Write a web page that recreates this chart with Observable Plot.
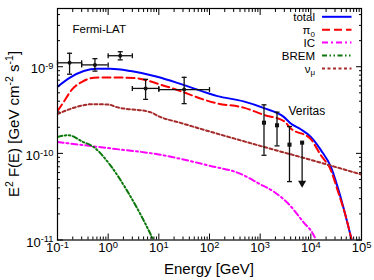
<!DOCTYPE html>
<html><head><meta charset="utf-8">
<script src="https://cdn.jsdelivr.net/npm/d3@7"></script>
<script src="https://cdn.jsdelivr.net/npm/@observablehq/plot@0.6"></script>
<style>
body{margin:0;background:#fff}
svg{font-family:"Liberation Sans",Arial,sans-serif}
</style>
</head><body><div id="chart"></div>
<script>
// ---- model curves (Energy [GeV], E^2 F(E) [GeV cm^-2 s^-1]) ----
const totalE = [0.1, 0.18, 0.33, 0.6, 1.1, 2.8, 9.3, 31.5, 144, 470, 1190, 2960, 4020, 6300, 10000, 15800, 24900, 33800, 45600, 61900, 100000];
const totalF = [5.87e-10, 7.53e-10, 8.91e-10, 9.48e-10, 9.48e-10, 8.91e-10, 7.66e-10, 6.14e-10, 4.58e-10, 3.98e-10, 3.33e-10, 2.62e-10, 2.21e-10, 1.90e-10, 1.55e-10, 1.09e-10, 6.97e-11, 4.08e-11, 2.19e-11, 1.08e-11, 3.0e-12];
const pi0E = [0.1, 0.133, 0.194, 0.305, 0.52, 0.95, 3.2, 14.7, 144, 470, 1190, 2960, 4020, 9770, 15800, 24900, 33800, 49300, 61900, 100000];
const pi0F = [3.07e-10, 3.94e-10, 5.47e-10, 6.70e-10, 7.46e-10, 7.53e-10, 7.4e-10, 5.87e-10, 3.77e-10, 3.37e-10, 2.78e-10, 2.35e-10, 1.94e-10, 1.48e-10, 9.5e-11, 6.37e-11, 3.74e-11, 1.84e-11, 1.08e-11, 3.0e-12];
const icE = [0.1, 1, 10, 100, 411, 1000, 1840, 3890, 7250, 11200, 13000, 20000];
const icF = [1.35e-10, 1.15e-10, 9.7e-11, 7.2e-11, 5.8e-11, 4.4e-11, 3.63e-11, 2.5e-11, 1.59e-11, 1.16e-11, 9.6e-12, 4e-12];
const bremE = [0.1, 0.164, 0.324, 0.51, 1.1, 2.34, 4.3, 6.8, 10];
const bremF = [1.55e-10, 1.62e-10, 1.35e-10, 1.19e-10, 7.3e-11, 3.74e-11, 2.0e-11, 1.18e-11, 7.1e-12];
const numuE = [0.1, 0.2, 0.5, 1, 1.47, 6.8, 10, 26.7, 100, 1000, 10000, 100000];
const numuF = [2.84e-10, 3.33e-10, 3.7e-10, 3.66e-10, 3.42e-10, 2.99e-10, 2.67e-10, 2.25e-10, 1.79e-10, 1.22e-10, 8.4e-11, 5.7e-11];

// ---- Fermi-LAT points ----
const fermiE   = [0.173, 0.548, 1.73, 5.48, 31.6];
const fermiElo = [0.1, 0.3, 1, 3, 10];
const fermiEhi = [0.3, 1, 3, 10, 100];
const fermiF   = [1.11e-9, 1.05e-9, 1.34e-9, 5.62e-10, 5.45e-10];
const fermiFlo = [8.2e-10, 8.9e-10, 1.20e-9, 4.2e-10, 3.75e-10];
const fermiFhi = [1.43e-9, 1.24e-9, 1.49e-9, 7.15e-10, 7.54e-10];

// ---- Veritas points ----
const veritasE   = [1190, 2150, 3790];
const veritasF   = [2.26e-10, 2.11e-10, 1.26e-10];
const veritasFlo = [9.5e-11, 1.22e-10, 4.72e-11];
const veritasFhi = [3.63e-10, 2.99e-10, 2.04e-10];
const ulE = [6730], ulF = [1.33e-10], ulTip = [4.3e-11];

// ---- ticks / labels ----
const xMajor = [0.1, 1, 10, 100, 1000, 10000, 100000];
const yMajor = [1e-11, 1e-10, 1e-9];
const minorMult = [2, 3, 4, 5, 6, 7, 8, 9];
const legendNames = ["total", "π0", "IC", "BREM", "νμ"];

const xDomain = [0.1, 1e5], yDomain = [1e-11, 4.7e-9];
const xMinor = xMajor.flatMap(d => minorMult.map(k => d * k)).filter(v => v < xDomain[1]);
const yMinor = yMajor.flatMap(d => minorMult.map(k => d * k)).filter(v => v < yDomain[1]);

const styles = [
  {stroke: "#0000ff", dash: null},
  {stroke: "#ff0000", dash: "8,4"},
  {stroke: "#ff00ff", dash: "6,3,2,3"},
  {stroke: "#0a780a", dash: "5,2.5,1.5,2.5,1.5,2.5"},
  {stroke: "#a52a2a", dash: "3,2.5"}
];
const seriesE = [totalE, pi0E, icE, bremE, numuE];
const seriesF = [totalF, pi0F, icF, bremF, numuF];

const lineMarks = seriesE.map((E, s) =>
  Plot.line(E.map((e, i) => ({e, f: seriesF[s][i]})), {
    x: "e", y: "f", stroke: styles[s].stroke, strokeWidth: 2,
    strokeDasharray: styles[s].dash, curve: "monotone-x", clip: true
  }));

const fermi = fermiE.map((e, i) => ({e, lo: fermiElo[i], hi: fermiEhi[i], f: fermiF[i], flo: fermiFlo[i], fhi: fermiFhi[i]}));
const veritas = veritasE.map((e, i) => ({e, f: veritasF[i], flo: veritasFlo[i], fhi: veritasFhi[i]}));
const ul = ulE.map((e, i) => ({e, f: ulF[i], tip: ulTip[i]}));

const hcap = {draw(c, size) { const w = Math.sqrt(size / Math.PI); c.moveTo(-w, 0); c.lineTo(w, 0); }};
const vcap = {draw(c, size) { const w = Math.sqrt(size / Math.PI); c.moveTo(0, -w); c.lineTo(0, w); }};
const ink = "#111";
const eb = {stroke: ink, strokeWidth: 1.3};

const supFmt = d => "10|" + Math.round(Math.log10(d));
const blank = () => "";

const svg = Plot.plot({
  width: 374, height: 280,
  marginLeft: 57, marginRight: 13, marginTop: 8, marginBottom: 40.5,
  style: {fontFamily: "Liberation Sans, Arial, sans-serif", fontSize: "13px", color: "#000", background: "#fff"},
  x: {type: "log", domain: xDomain},
  y: {type: "log", domain: yDomain},
  marks: [
    ...lineMarks,
    // Fermi
    Plot.ruleY(fermi, {y: "f", x1: "lo", x2: "hi", ...eb}),
    Plot.ruleX(fermi, {x: "e", y1: "flo", y2: "fhi", ...eb}),
    Plot.dot(fermi, {x: "e", y: "flo", symbol: hcap, r: 2.5, fill: "none", ...eb}),
    Plot.dot(fermi, {x: "e", y: "fhi", symbol: hcap, r: 2.5, fill: "none", ...eb}),
    Plot.dot(fermi, {x: "lo", y: "f", symbol: vcap, r: 2.5, fill: "none", ...eb}),
    Plot.dot(fermi, {x: "hi", y: "f", symbol: vcap, r: 2.5, fill: "none", ...eb}),
    Plot.dot(fermi, {x: "e", y: "f", r: 2, fill: ink}),
    // Veritas
    Plot.ruleX(veritas, {x: "e", y1: "flo", y2: "fhi", ...eb}),
    Plot.dot(veritas, {x: "e", y: "flo", symbol: hcap, r: 2.5, fill: "none", ...eb}),
    Plot.dot(veritas, {x: "e", y: "fhi", symbol: hcap, r: 2.5, fill: "none", ...eb}),
    Plot.dot(veritas, {x: "e", y: "f", symbol: "square", r: 2.3, fill: ink}),
    Plot.ruleX(ul, {x: "e", y1: "f", y2: "tip", ...eb}),
    Plot.dot(ul, {x: "e", y: "tip", symbol: "triangle", rotate: 180, r: 3, fill: ink, dy: -2}),
    Plot.dot(ul, {x: "e", y: "f", symbol: "square", r: 2.3, fill: ink}),
    // frame & inward ticks on all sides
    Plot.frame({stroke: "#000", strokeWidth: 1.2}),
    Plot.axisX(xMajor, {anchor: "bottom", tickSize: -6, tickFormat: blank, label: null}),
    Plot.axisX(xMinor, {anchor: "bottom", tickSize: -3, tickFormat: blank, label: null}),
    Plot.axisX(xMajor, {anchor: "top", tickSize: -6, tickFormat: blank, label: null}),
    Plot.axisX(xMinor, {anchor: "top", tickSize: -3, tickFormat: blank, label: null}),
    Plot.axisY(yMajor, {anchor: "left", tickSize: -6, tickFormat: blank, label: null}),
    Plot.axisY(yMinor, {anchor: "left", tickSize: -3, tickFormat: blank, label: null}),
    Plot.axisY(yMajor, {anchor: "right", tickSize: -6, tickFormat: blank, label: null}),
    Plot.axisY(yMinor, {anchor: "right", tickSize: -3, tickFormat: blank, label: null}),
    Plot.axisX(xMajor, {anchor: "bottom", tickSize: 0, tickPadding: 3, tickFormat: supFmt, label: null, fontSize: 13}),
    Plot.axisY(yMajor, {anchor: "left", tickSize: 0, tickPadding: 4, tickFormat: supFmt, label: null, fontSize: 13, dy: 2.5})
  ]
});

const S = d3.select(svg);
// superscript exponents in tick labels
S.selectAll("text").each(function() {
  const m = /^10\|(-?\d+)$/.exec(this.textContent);
  if (!m) return;
  const t = d3.select(this);
  t.text("");
  t.append("tspan").text("10");
  t.append("tspan").attr("dy", "-0.45em").attr("font-size", "0.72em").text(m[1]);
});

const ann = S.append("g").attr("fill", "#000").attr("text-anchor", "start");
// axis titles
ann.append("text").attr("x", 209).attr("y", 274).attr("text-anchor", "middle").attr("font-size", 15).text("Energy [GeV]");
const yl = ann.append("text").attr("transform", "translate(19,124) rotate(-90)").attr("text-anchor", "middle").attr("font-size", 15);
yl.append("tspan").text("E");
yl.append("tspan").attr("font-size", 10.5).attr("dy", -6).text("2");
yl.append("tspan").attr("dy", 6).text(" F(E) [GeV cm");
yl.append("tspan").attr("font-size", 10.5).attr("dy", -6).text("-2");
yl.append("tspan").attr("dy", 6).text(" s");
yl.append("tspan").attr("font-size", 10.5).attr("dy", -6).text("-1");
yl.append("tspan").attr("dy", 6).text("]");

// annotations
ann.append("text").attr("x", 72.5).attr("y", 33).attr("font-size", 11.5).text("Fermi-LAT");
ann.append("text").attr("x", 288.5).attr("y", 115).attr("font-size", 12).text("Veritas");

// legend
const lg = S.append("g");
legendNames.forEach((name, i) => {
  const y = 16.8 + i * 12.9;
  const t = lg.append("text").attr("x", 315).attr("y", y + 4.5).attr("text-anchor", "end").attr("font-size", 11.5);
  if (name === "π0" || name === "νμ") {
    t.append("tspan").text(name[0]);
    t.append("tspan").attr("font-size", 8).attr("dy", 2.5).text(name[1]);
  } else t.text(name);
  lg.append("line").attr("x1", 322).attr("x2", 351.5).attr("y1", y).attr("y2", y)
    .attr("stroke", styles[i].stroke).attr("stroke-width", 2)
    .attr("stroke-dasharray", styles[i].dash);
});

document.getElementById("chart").appendChild(svg);
</script>
</body></html>
